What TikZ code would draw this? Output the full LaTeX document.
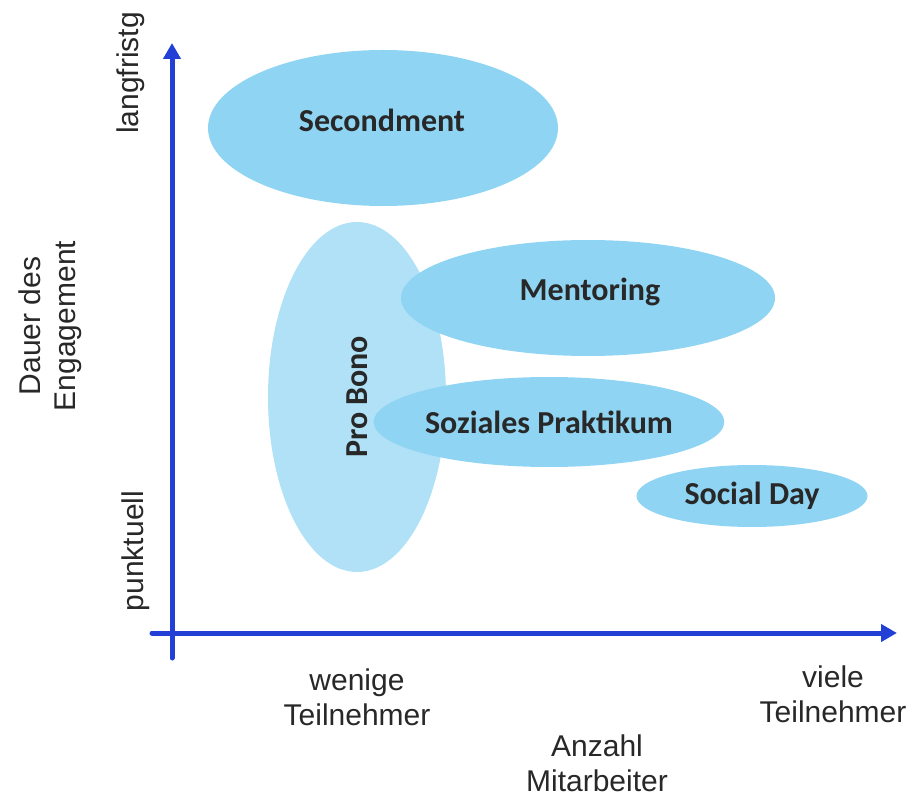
\documentclass[tikz,border=0pt]{standalone}
\usepackage{fontspec}
\setmainfont{Liberation Sans}
\newfontfamily\calib{Carlito}
\usetikzlibrary{shapes.geometric,arrows.meta}

\definecolor{axisblue}{RGB}{34,64,214}
\definecolor{bubblefill}{RGB}{143,212,242}
\definecolor{bubblelight}{RGB}{176,225,247}
\definecolor{labeltext}{RGB}{40,40,40}

\tikzset{
  bubble/.style={ellipse, draw=none, fill=bubblefill, inner sep=0pt,
    text=labeltext, font=\calib\bfseries\fontsize{32}{36}\selectfont},
  bubbletext/.style={text=labeltext, font=\calib\bfseries\fontsize{32}{36}\selectfont},
  axisline/.style={draw=axisblue, line width=5pt, line cap=round,
    -{Triangle[length=16pt,width=17pt]}},
  axislabel/.style={text=labeltext, align=center, inner sep=0pt,
    font=\fontsize{30}{35}\selectfont},
}

\begin{document}
\begin{tikzpicture}[x=1pt,y=-1pt]
  \path[use as bounding box] (0,0) rectangle (918,799);

  % engagement formats
  \node[bubble, minimum width=350pt, minimum height=156pt] (secondment) at (383,128) {};
  \node[bubbletext] (secondmenttext) at (382,120) {Secondment};
  \node[bubble, fill=bubblelight, minimum width=350pt, minimum height=178pt, rotate=90] (probono) at (357,397) {Pro Bono};
  \node[bubble, minimum width=374pt, minimum height=116pt] (mentoring) at (588,298) {};
  \node[bubbletext] (mentoringtext) at (590,292) {Mentoring};
  \node[bubble, minimum width=348pt, minimum height=90pt] (praktikum) at (549,422) {Soziales Praktikum};
  \node[bubble, minimum width=231pt, minimum height=62pt] (socialday) at (752,496) {Social Day};

  % axes
  \coordinate (ybot) at (172,658);
  \coordinate (ytop) at (172,43);
  \coordinate (xleft) at (152,633);
  \coordinate (xright) at (897,633);
  \draw[axisline] (ybot) -- (ytop);
  \draw[axisline] (xleft) -- (xright);

  % axis labels
  \node[axislabel, rotate=90] (langfristig) at (131,73) {langfristg};
  \node[axislabel, rotate=90] (punktuell) at (136,551) {punktuell};
  \node[axislabel, rotate=90] (dauer) at (50,326) {Dauer des\\Engagement};
  \node[axislabel] (wenige) at (357,697) {wenige\\Teilnehmer};
  \node[axislabel] (viele) at (833,694) {viele\\Teilnehmer};
  \node[axislabel] (anzahl) at (597,763) {Anzahl\\Mitarbeiter};
\end{tikzpicture}
\end{document}
